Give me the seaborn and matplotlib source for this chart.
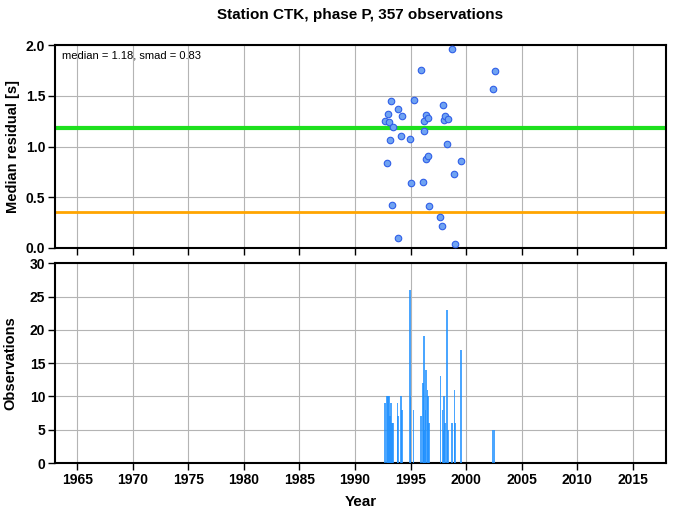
import numpy as np
import pandas as pd
import matplotlib
matplotlib.use("Agg")
import matplotlib.pyplot as plt
import seaborn as sns

# epoch of each monthly bin (decimal year), its median residual and number of picks
years = [1992.72, 1992.90, 1992.96, 1993.05, 1993.14, 1993.23, 1993.32, 1993.41,
         1993.83, 1993.89, 1994.13, 1994.25, 1994.94, 1995.00, 1995.27, 1995.93,
         1996.11, 1996.20, 1996.23, 1996.35, 1996.41, 1996.53, 1996.59, 1996.68,
         1997.69, 1997.87, 1997.96, 1998.00, 1998.11, 1998.26, 1998.38, 1998.71,
         1998.95, 1999.01, 1999.55, 2002.43, 2002.57]
residuals = [1.25, 0.84, 1.32, 1.24, 1.06, 1.45, 0.42, 1.19,
             0.10, 1.37, 1.10, 1.30, 1.07, 0.64, 1.46, 1.75,
             0.65, 1.15, 1.25, 0.88, 1.31, 0.91, 1.28, 0.41,
             0.31, 0.22, 1.41, 1.26, 1.30, 1.03, 1.27, 1.96,
             0.73, 0.04, 0.86, 1.57, 1.74]
counts = [9, 10, 10, 10, 7, 9, 6, 6,
          9, 7, 10, 8, 26, 10, 8, 7,
          12, 5, 19, 8, 14, 11, 10, 6,
          13, 8, 5, 10, 6, 23, 5, 6,
          11, 6, 17, 5, 5]

station = "CTK"
phase = "P"
n_obs = 357
median_all = 1.18
smad = 0.83
reference_level = 0.35

df = pd.DataFrame({"year": years, "residual": residuals, "count": counts})

sns.set_style("white")
plt.rcParams["font.family"] = ["Liberation Sans", "DejaVu Sans"]
plt.rcParams["font.weight"] = "bold"

fig = plt.figure(figsize=(6.73, 5.11), dpi=100)
ax1 = fig.add_axes([0.0817, 0.5147, 0.908, 0.397])
ax2 = fig.add_axes([0.0817, 0.0939, 0.908, 0.391])

xticks = np.arange(1965, 2016, 5)

# top: median residual per month
ax1.axhline(median_all, color="#1ee01e", lw=3, zorder=2)
ax1.axhline(reference_level, color="#ffa500", lw=2, zorder=2)
sns.scatterplot(data=df, x="year", y="residual", ax=ax1, s=22,
                color="#6fa3f2", edgecolor="#2f5fe8", linewidth=0.8, zorder=3)
ax1.set_xlim(1963, 2018)
ax1.set_ylim(0, 2.0)
ax1.set_xticks(xticks)
ax1.set_xticklabels([])
ax1.set_yticks(np.arange(0, 2.01, 0.5))
ax1.set_yticklabels([f"{v:.1f}" for v in np.arange(0, 2.01, 0.5)])
ax1.set_xlabel("")
ax1.set_ylabel("Median residual [s]", fontsize=10.5, fontweight="bold", labelpad=4)
ax1.text(0.012, 0.975, f"median = {median_all:.2f}, smad = {smad:.2f}",
         transform=ax1.transAxes, ha="left", va="top", fontsize=8, fontweight="normal",
         color="black")
ax1.set_title(f"Station {station}, phase {phase}, {n_obs} observations",
              fontsize=11, fontweight="bold", pad=19, color="black")

# bottom: number of observations per month
ax2.bar(df["year"], df["count"], width=0.15, color="#1e90ff", alpha=0.8,
        linewidth=0, zorder=3)
ax2.set_xlim(1963, 2018)
ax2.set_ylim(0, 30)
ax2.set_xticks(xticks)
ax2.set_yticks(np.arange(0, 31, 5))
ax2.set_xlabel("Year", fontsize=11, fontweight="bold", labelpad=6, color="black")
ax2.set_ylabel("Observations", fontsize=10.5, fontweight="bold", labelpad=9)

for ax in (ax1, ax2):
    ax.grid(True, color="#b4b4b4", lw=0.8, zorder=0)
    ax.set_axisbelow(True)
    for sp in ax.spines.values():
        sp.set_color("black")
        sp.set_linewidth(1.5)
    ax.tick_params(axis="both", direction="out", length=5, width=1, color="black",
                   labelsize=10, labelcolor="black", pad=2, bottom=True, left=True)
    ax.yaxis.label.set_color("black")
    for lab in ax.get_xticklabels() + ax.get_yticklabels():
        lab.set_fontweight("bold")

fig.savefig("out.png", dpi=100)
